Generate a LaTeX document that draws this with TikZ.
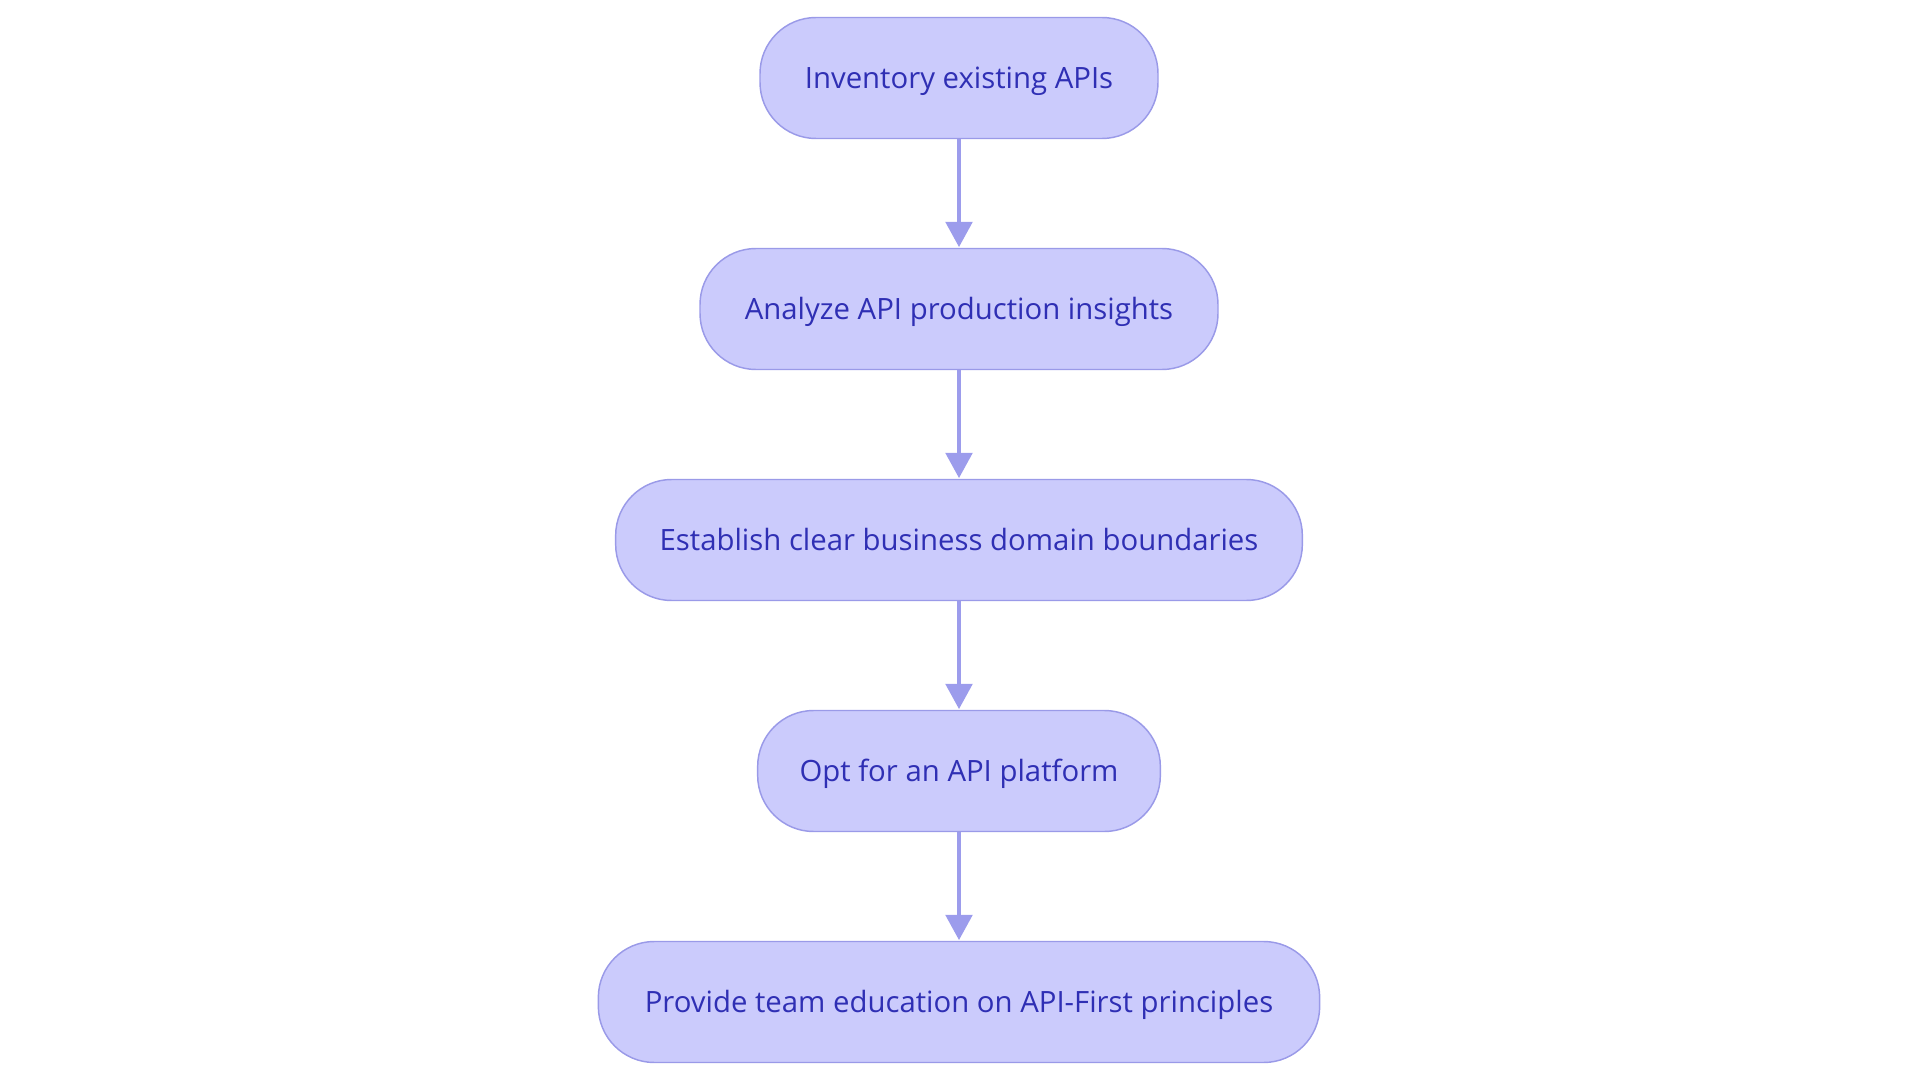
\documentclass[tikz,border=0pt]{standalone}
\usepackage{fontspec}
\setmainfont{Open Sans}
\usetikzlibrary{arrows.meta}
\definecolor{boxfill}{HTML}{CBCBFC}
\definecolor{boxline}{HTML}{9A9AE8}
\definecolor{boxtext}{HTML}{2F2FB4}
\definecolor{arrowcol}{HTML}{9C9CEC}
\tikzset{
  stepbox/.style={draw=boxline, fill=boxfill, line width=1.1pt, rounded corners=42pt,
    minimum height=90.75pt, inner sep=0pt, text height=15.5pt, text depth=0pt,
    text=boxtext, font=\fontsize{22pt}{26pt}\selectfont},
  flow/.style={draw=arrowcol, line width=2.8pt, -{Triangle[width=20pt,length=19pt]}, shorten >=0.5pt}
}
\begin{document}
\begin{tikzpicture}[x=0.75pt,y=-0.75pt]
\useasboundingbox (0,0) rectangle (1920,1080);
\node[stepbox, minimum width=298.5pt] (n1) at (959,78) {Inventory existing APIs};
\node[stepbox, minimum width=388.5pt] (n2) at (959,309) {Analyze API production insights};
\node[stepbox, minimum width=515pt] (n3) at (959,540) {Establish clear business domain boundaries};
\node[stepbox, minimum width=302pt] (n4) at (959,771) {Opt for an API platform};
\node[stepbox, minimum width=541pt] (n5) at (959,1002) {Provide team education on API-First principles};
\draw[flow] (n1) -- (n2);
\draw[flow] (n2) -- (n3);
\draw[flow] (n3) -- (n4);
\draw[flow] (n4) -- (n5);
\end{tikzpicture}
\end{document}
